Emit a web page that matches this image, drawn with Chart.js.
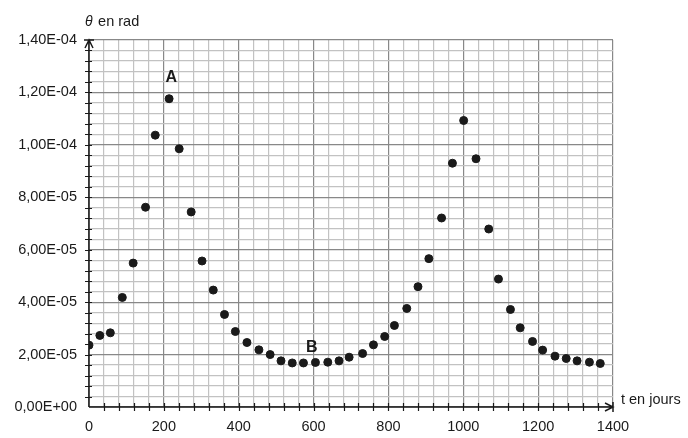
<!DOCTYPE html>
<html>
<head>
<meta charset="utf-8">
<script src="https://cdn.jsdelivr.net/npm/chart.js@4.4.0/dist/chart.umd.min.js"></script>
<style>
  html, body { margin: 0; padding: 0; background: #fff; }
  #wrap { width: 688px; height: 438px; }
</style>
</head>
<body>
<div id="wrap"><canvas id="chart"></canvas></div>
<script>
// temps (jours) et angle theta (rad)
const days = [0, 29, 57, 89, 118, 151, 177, 214, 241, 273, 302, 332, 362, 391, 422, 454, 484, 513, 543, 573,
              605, 638, 668, 695, 731, 760, 790, 816, 849, 879, 908, 942, 971, 1001, 1034, 1068, 1094, 1126,
              1152, 1185, 1212, 1245, 1275, 1304, 1337, 1366];
const theta = [2.36e-5, 2.73e-5, 2.83e-5, 4.18e-5, 5.49e-5, 7.62e-5, 10.37e-5, 11.76e-5, 9.85e-5, 7.44e-5,
               5.57e-5, 4.46e-5, 3.53e-5, 2.88e-5, 2.46e-5, 2.18e-5, 2.00e-5, 1.76e-5, 1.68e-5, 1.68e-5,
               1.70e-5, 1.71e-5, 1.76e-5, 1.90e-5, 2.04e-5, 2.37e-5, 2.69e-5, 3.11e-5, 3.76e-5, 4.59e-5,
               5.66e-5, 7.21e-5, 9.30e-5, 10.93e-5, 9.47e-5, 6.79e-5, 4.88e-5, 3.72e-5, 3.02e-5, 2.50e-5,
               2.17e-5, 1.94e-5, 1.85e-5, 1.76e-5, 1.71e-5, 1.66e-5];
const marks = [{ text: "A", t: 220, v: 1.255e-4 }, { text: "B", t: 595, v: 2.28e-5 }];
const xTitle = "t en jours";
const yTitle = "en rad";

const FONT = "'Liberation Sans', Arial, sans-serif";
const MINOR = "#c2c2c2";
const MAJOR = "#888888";

// format 1,40E-04
function sci(v) {
  if (Math.abs(v) < 1e-12) return "0,00E+00";
  const s = v.toExponential(2).split("e");
  const e = parseInt(s[1], 10);
  const sign = e < 0 ? "-" : "+";
  return s[0].replace(".", ",") + "E" + sign + String(Math.abs(e)).padStart(2, "0");
}
const isMajorX = v => Math.round(v) % 200 === 0;
const isMajorY = v => Math.round(v / 4e-6) % 5 === 0;

// axes noirs, flèches, graduations et textes
const axesPlugin = {
  id: "axes",
  afterDatasetsDraw(chart) {
    const { ctx, chartArea: a, scales } = chart;
    const x = scales.x, y = scales.y;
    ctx.save();
    ctx.strokeStyle = "#1a1a1a";
    ctx.lineWidth = 1.5;
    ctx.beginPath();
    ctx.moveTo(a.left, a.bottom); ctx.lineTo(a.left, a.top);
    ctx.moveTo(a.left, a.bottom); ctx.lineTo(a.right, a.bottom);
    // flèches
    ctx.moveTo(a.left - 4, a.top + 8); ctx.lineTo(a.left, a.top); ctx.lineTo(a.left + 4, a.top + 8);
    ctx.moveTo(a.left - 5, a.top); ctx.lineTo(a.left + 5, a.top);
    ctx.moveTo(a.right - 8, a.bottom - 4); ctx.lineTo(a.right, a.bottom); ctx.lineTo(a.right - 8, a.bottom + 4);
    ctx.moveTo(a.right, a.bottom - 5); ctx.lineTo(a.right, a.bottom + 5);
    ctx.stroke();
    ctx.lineWidth = 1.2;
    ctx.beginPath();
    x.ticks.forEach(t => {
      if (t.value <= 0 || t.value >= 1400) return;
      const px = Math.round(x.getPixelForValue(t.value)) + 0.5;
      ctx.moveTo(px, a.bottom - 4); ctx.lineTo(px, a.bottom + 4);
    });
    y.ticks.forEach(t => {
      if (t.value <= 0 || t.value >= 1.39e-4) return;
      const py = Math.round(y.getPixelForValue(t.value)) + 0.5;
      ctx.moveTo(a.left - 4, py); ctx.lineTo(a.left + 3, py);
    });
    ctx.stroke();

    ctx.fillStyle = "#1a1a1a";
    ctx.textBaseline = "middle";
    ctx.textAlign = "left";
    ctx.font = "italic 14px " + FONT;
    ctx.fillText("\u03B8", 85, 22);
    ctx.font = "14.5px " + FONT;
    ctx.fillText(yTitle, 85 + ctx.measureText("\u03B8 ").width + 1, 22);
    ctx.fillText(xTitle, a.right + 8, a.bottom - 7);

    ctx.font = "bold 16px " + FONT;
    ctx.textAlign = "center";
    marks.forEach(m => {
      ctx.fillText(m.text, x.getPixelForValue(m.t), y.getPixelForValue(m.v));
    });
    ctx.restore();
  }
};

const ctx = document.getElementById("chart").getContext("2d");
const chart = new Chart(ctx, {
  type: "scatter",
  data: {
    datasets: [{
      data: days.map((d, i) => ({ x: d, y: theta[i] })),
      backgroundColor: "#1a1a1a",
      borderColor: "#1a1a1a",
      pointRadius: 4,
      pointHoverRadius: 4,
    }]
  },
  options: {
    responsive: true,
    maintainAspectRatio: false,
    animation: false,
    layout: { padding: { left: 0, top: 40, right: 75, bottom: 0 } },
    plugins: { legend: { display: false }, tooltip: { enabled: false } },
    scales: {
      x: {
        type: "linear",
        min: 0, max: 1400,
        border: { display: false },
        grid: {
          drawTicks: false,
          color: c => isMajorX(c.tick.value) ? MAJOR : MINOR,
          lineWidth: 1.2,
        },
        ticks: {
          stepSize: 40,
          autoSkip: false,
          maxRotation: 0,
          padding: 11,
          color: "#1a1a1a",
          font: { family: FONT, size: 14.5 },
          callback: v => isMajorX(v) ? String(Math.round(v)) : "",
        },
        afterFit: s => { s.height = 31; },
      },
      y: {
        type: "linear",
        min: 0, max: 1.4e-4,
        border: { display: false },
        grid: {
          drawTicks: false,
          color: c => isMajorY(c.tick.value) ? MAJOR : MINOR,
          lineWidth: 1.2,
        },
        ticks: {
          stepSize: 4e-6,
          autoSkip: false,
          padding: 12,
          color: "#1a1a1a",
          font: { family: FONT, size: 14.5 },
          callback: v => isMajorY(v) ? sci(v) : "",
        },
        afterFit: s => { s.width = 89; },
      }
    }
  },
  plugins: [axesPlugin]
});
</script>
</body>
</html>
